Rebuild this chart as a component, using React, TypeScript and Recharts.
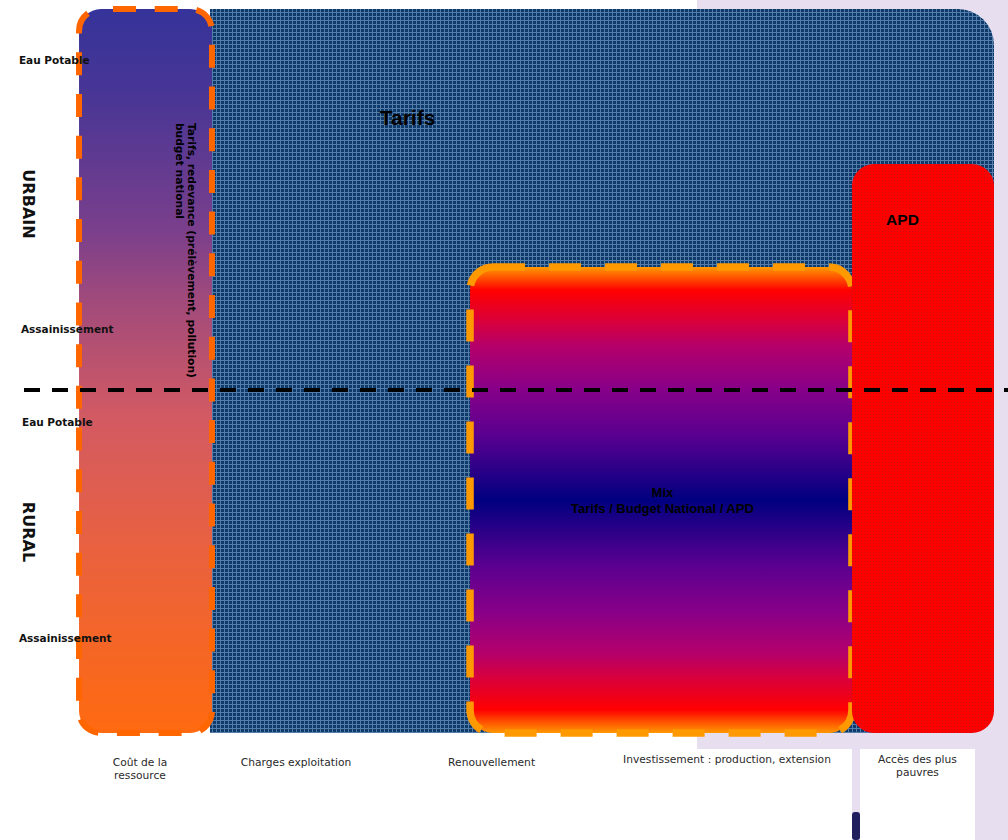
import React from 'react';
import {
  ComposedChart,
  XAxis,
  YAxis,
  ReferenceArea,
  ReferenceLine,
  ReferenceDot,
} from 'recharts';

// ---------------- data (diagram space: x 0–100 left→right, y 0–100 bottom→top) -------------
const CATEGORIES = [
  'Coût de la\nressource',
  'Charges exploitation',
  'Renouvellement',
  'Investissement : production, extension',
  'Accès des plus\npauvres',
];
const CATEGORY_X = [13.89, 29.37, 48.77, 72.12, 91.02];

// [x1, x2, y1, y2]
const TARIFS_SPAN = [20.83, 98.61, 2.01, 98.8];
const APD_SPAN = [84.52, 98.61, 2.01, 78.07];
const MIX_SPAN = [46.63, 84.52, 2.01, 64.3];
const RESOURCE_SPAN = [7.84, 21.03, 2.01, 98.8];

const URBAN_RURAL_Y = 47.86;
const DIVIDER_X = [2.38, 100];

const SEGMENT_LABELS = ['Eau Potable', 'Assainissement', 'Eau Potable', 'Assainissement'];
const SEGMENT_X = [1.88, 2.08, 2.18, 1.88];
const SEGMENT_Y = [91.44, 55.48, 43.05, 14.17];

const ZONE_LABELS = ['URBAIN', 'RURAL'];
const ZONE_X = [2.28, 2.28];
const ZONE_Y = [72.73, 28.88];

const FUNDING_LABELS = ['Tarifs', 'APD', 'Mix\nTarifs / Budget National / APD', 'Tarifs, redevance (prélèvement, pollution)\nbudget national'];
const FUNDING_X = [40.43, 89.53, 65.72, 18.65];
const FUNDING_Y = [83.29, 69.92, 33.56, 83.56];

// ---------------- styles ----------------
const W = 1008;
const H = 840;
const AXIS_H = 92;
const TICK_BASELINE = [18, 18, 18, 15, 15];
const SANS = 'Liberation Sans, Arial, sans-serif';
const VERD = 'DejaVu Sans, Verdana, sans-serif';

const TarifsShape = (p: any) => {
  const { x, y, width: w, height: h } = p;
  const r = 36;
  const d = `M${x},${y} H${x + w - r} A${r},${r} 0 0 1 ${x + w},${y + r} V${y + h - r} A${r},${r} 0 0 1 ${x + w - r},${y + h} H${x} Z`;
  return (
    <g>
      <defs>
        <pattern id="tarifsWeave" patternUnits="userSpaceOnUse" width="4" height="4">
          <rect width="4" height="4" fill="#0D396B" />
          <rect width="4" height="1" fill="#557DAA" />
          <rect width="1" height="4" fill="#557DAA" />
        </pattern>
      </defs>
      <path d={d} fill="url(#tarifsWeave)" />
    </g>
  );
};

const ApdShape = (p: any) => {
  const { x, y, width: w, height: h } = p;
  return (
    <g>
      <defs>
        <pattern id="apdDots" patternUnits="userSpaceOnUse" width="3" height="3">
          <rect width="3" height="3" fill="#FF0000" />
          <rect width="1" height="1" fill="#C81010" />
        </pattern>
      </defs>
      <rect x={x} y={y} width={w} height={h} rx={22} ry={22} fill="url(#apdDots)" />
    </g>
  );
};

const MIX_STOPS: [number, string][] = [
  [0, '#FF9900'],
  [0.05, '#FF0000'],
  [0.11, '#DD0035'],
  [0.17, '#B5006A'],
  [0.26, '#880088'],
  [0.36, '#5A0090'],
  [0.43, '#2E0088'],
  [0.5, '#000080'],
  [0.57, '#2E0088'],
  [0.64, '#5A0090'],
  [0.74, '#880088'],
  [0.83, '#B5006A'],
  [0.89, '#DD0035'],
  [0.95, '#FF0000'],
  [1, '#FF9900'],
];

const RES_STOPS: [number, string][] = [
  [0, '#35339A'],
  [0.126, '#4A3695'],
  [0.305, '#7A3F8C'],
  [0.4, '#A04A7C'],
  [0.567, '#D35A62'],
  [0.747, '#E9613F'],
  [1, '#FF6A10'],
];

const MixShape = (p: any) => {
  const { x, y, width: w, height: h } = p;
  return (
    <g>
      <defs>
        <linearGradient id="mixGrad" x1="0" y1="0" x2="0" y2="1">
          {MIX_STOPS.map(([o, c], i) => (
            <stop key={i} offset={o} stopColor={c} />
          ))}
        </linearGradient>
      </defs>
      <rect
        x={x}
        y={y}
        width={w}
        height={h}
        rx={23}
        ry={23}
        fill="url(#mixGrad)"
        stroke="#FF9900"
        strokeWidth={7.5}
        strokeDasharray="32 24"
      />
    </g>
  );
};

const ResourceShape = (p: any) => {
  const { x, y, width: w, height: h } = p;
  return (
    <g>
      <defs>
        <linearGradient id="resGrad" x1="0" y1="0" x2="0" y2="1">
          {RES_STOPS.map(([o, c], i) => (
            <stop key={i} offset={o} stopColor={c} />
          ))}
        </linearGradient>
      </defs>
      <rect
        x={x}
        y={y}
        width={w}
        height={h}
        rx={22}
        ry={22}
        fill="url(#resGrad)"
        stroke="#FF6600"
        strokeWidth={6}
        strokeDasharray="23 18.7"
        strokeDashoffset={29.7}
      />
    </g>
  );
};

const CategoryTick = (p: any) => {
  const { x, y, payload } = p;
  const i = CATEGORY_X.indexOf(payload.value);
  if (i < 0) return null;
  const lines = CATEGORIES[i].split('\n');
  return (
    <text x={x} y={y + TICK_BASELINE[i]} textAnchor="middle" fontFamily={VERD} fontSize={10.7} fill="#2A2A2A">
      {lines.map((l, k) => (
        <tspan key={k} x={x} dy={k === 0 ? 0 : 13}>
          {l}
        </tspan>
      ))}
    </text>
  );
};

const segmentShape = (label: string) => (p: any) => (
  <text x={p.cx} y={p.cy} fontFamily={VERD} fontWeight="bold" fontSize={10.5} fill="#111">
    {label}
  </text>
);

const zoneShape = (label: string) => (p: any) => (
  <text
    x={p.cx}
    y={p.cy}
    transform={`rotate(90, ${p.cx}, ${p.cy})`}
    textAnchor="middle"
    fontFamily={VERD}
    fontWeight="bold"
    fontSize={16}
    fill="#111"
  >
    {label}
  </text>
);

const fundingShape = (i: number) => (p: any) => {
  const lines = FUNDING_LABELS[i].split('\n');
  if (i === 0) {
    return (
      <text x={p.cx} y={p.cy} textAnchor="middle" fontFamily={SANS} fontWeight="bold" fontSize={21} fill="#000">
        {lines[0]}
      </text>
    );
  }
  if (i === 1) {
    return (
      <text x={p.cx} y={p.cy} textAnchor="middle" fontFamily={SANS} fontWeight="bold" fontSize={15.5} fill="#000">
        {lines[0]}
      </text>
    );
  }
  if (i === 2) {
    return (
      <text x={p.cx} y={p.cy} textAnchor="middle" fontFamily={SANS} fontWeight="bold" fontSize={13} fill="#000">
        {lines.map((l, k) => (
          <tspan key={k} x={p.cx} dy={k === 0 ? 0 : 16}>
            {l}
          </tspan>
        ))}
      </text>
    );
  }
  return (
    <text
      x={p.cx}
      y={p.cy}
      transform={`rotate(90, ${p.cx}, ${p.cy})`}
      fontFamily={VERD}
      fontWeight="bold"
      fontSize={10.7}
      fill="#000"
    >
      {lines.map((l, k) => (
        <tspan key={k} x={p.cx} dy={k === 0 ? 0 : 12}>
          {l}
        </tspan>
      ))}
    </text>
  );
};

const chartData = CATEGORY_X.map((x, i) => ({ x, name: CATEGORIES[i] }));

export default function App() {
  return (
    <div style={{ position: 'absolute', left: 0, top: 0, width: W, height: H, background: '#FFFFFF', overflow: 'hidden' }}>
      <div style={{ position: 'absolute', left: 697, top: 0, width: W - 697, height: H, background: '#E7DFEF' }} />
      <div style={{ position: 'absolute', left: 620, top: 749, width: 232, height: 91, background: '#FFFFFF' }} />
      <div style={{ position: 'absolute', left: 860, top: 749, width: 115, height: 91, background: '#FFFFFF' }} />
      <div style={{ position: 'absolute', left: 852, top: 812, width: 8, height: 28, background: '#20205E', borderRadius: 3 }} />
      <div style={{ position: 'absolute', left: 0, top: 0 }}>
        <ComposedChart width={W} height={H} data={chartData} margin={{ top: 0, right: 0, bottom: 0, left: 0 }}>
          <XAxis
            type="number"
            dataKey="x"
            domain={[0, 100]}
            allowDataOverflow
            ticks={CATEGORY_X}
            interval={0}
            height={AXIS_H}
            axisLine={false}
            tickLine={false}
            tickSize={0}
            tickMargin={0}
            tick={(p: any) => <CategoryTick {...p} />}
          />
          <YAxis type="number" domain={[0, 100]} allowDataOverflow hide />

          <ReferenceArea
            x1={TARIFS_SPAN[0]}
            x2={TARIFS_SPAN[1]}
            y1={TARIFS_SPAN[2]}
            y2={TARIFS_SPAN[3]}
            shape={TarifsShape}
            ifOverflow="visible"
          />
          <ReferenceArea
            x1={MIX_SPAN[0]}
            x2={MIX_SPAN[1]}
            y1={MIX_SPAN[2]}
            y2={MIX_SPAN[3]}
            shape={MixShape}
            ifOverflow="visible"
          />
          <ReferenceArea
            x1={APD_SPAN[0]}
            x2={APD_SPAN[1]}
            y1={APD_SPAN[2]}
            y2={APD_SPAN[3]}
            shape={ApdShape}
            ifOverflow="visible"
          />
          <ReferenceArea
            x1={RESOURCE_SPAN[0]}
            x2={RESOURCE_SPAN[1]}
            y1={RESOURCE_SPAN[2]}
            y2={RESOURCE_SPAN[3]}
            shape={ResourceShape}
            ifOverflow="visible"
          />

          <ReferenceLine
            segment={[
              { x: DIVIDER_X[0], y: URBAN_RURAL_Y },
              { x: DIVIDER_X[1], y: URBAN_RURAL_Y },
            ]}
            stroke="#000"
            strokeWidth={4}
            strokeDasharray="16 12"
            ifOverflow="visible"
          />

          {FUNDING_LABELS.map((_, i) => (
            <ReferenceDot key={`f${i}`} x={FUNDING_X[i]} y={FUNDING_Y[i]} r={0} shape={fundingShape(i)} ifOverflow="visible" />
          ))}
          {SEGMENT_LABELS.map((l, i) => (
            <ReferenceDot key={`s${i}`} x={SEGMENT_X[i]} y={SEGMENT_Y[i]} r={0} shape={segmentShape(l)} ifOverflow="visible" />
          ))}
          {ZONE_LABELS.map((l, i) => (
            <ReferenceDot key={`z${i}`} x={ZONE_X[i]} y={ZONE_Y[i]} r={0} shape={zoneShape(l)} ifOverflow="visible" />
          ))}
        </ComposedChart>
      </div>
    </div>
  );
}
